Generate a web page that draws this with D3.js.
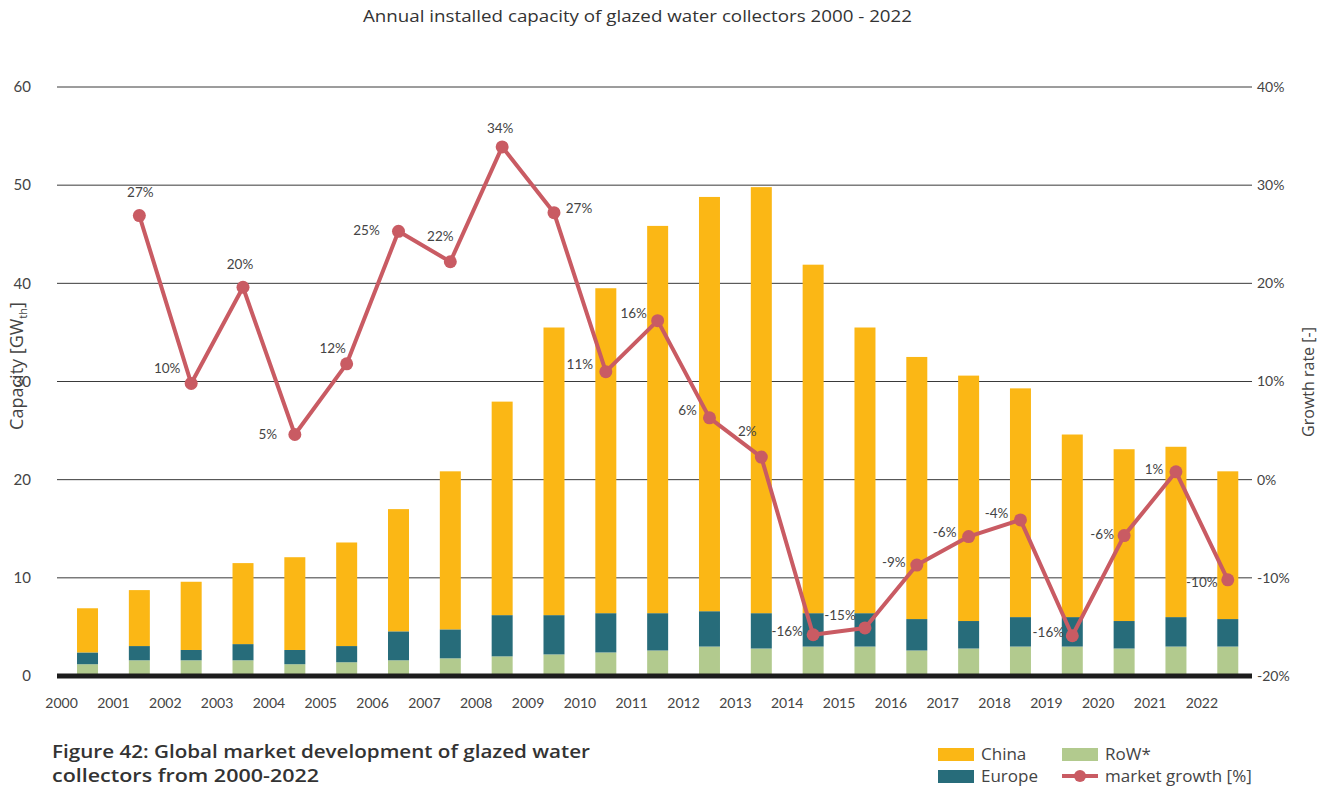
<!DOCTYPE html>
<html>
<head>
  <meta charset="utf-8">
  <title>glazed water collectors</title>
  <script src="https://cdnjs.cloudflare.com/ajax/libs/d3/7.8.5/d3.min.js"></script>
  <style>
    body { margin: 0; background: #fff; }
    text { font-family: Lato, "Open Sans", sans-serif; fill: #444; }
    .os { font-family: "Open Sans", Lato, sans-serif; }
  </style>
</head>
<body>
<script>
var width = 1336, height = 789;

// datos
var years  = d3.range(2000, 2023).map(String);
var row    = [1.2, 1.6, 1.6, 1.6, 1.2, 1.4, 1.6, 1.8, 2.0, 2.2, 2.4, 2.6, 3.0, 2.8, 3.0, 3.0, 2.6, 2.8, 3.0, 3.0, 2.8, 3.0, 3.0];
var europe = [1.2, 1.45, 1.05, 1.65, 1.45, 1.65, 2.95, 2.95, 4.2, 4.0, 4.0, 3.8, 3.6, 3.6, 3.4, 3.4, 3.2, 2.8, 3.0, 3.0, 2.8, 3.0, 2.8];
var china  = [4.5, 5.7, 6.95, 8.25, 9.45, 10.55, 12.45, 16.1, 21.75, 29.3, 33.1, 39.45, 42.2, 43.4, 35.5, 29.1, 26.7, 25.0, 23.3, 18.6, 17.5, 17.35, 15.05];
var growthYears = years.slice(1);
var growth = [26.9, 9.8, 19.6, 4.6, 11.8, 25.3, 22.2, 33.9, 27.2, 11.0, 16.2, 6.3, 2.3, -15.8, -15.1, -8.7, -5.8, -4.1, -15.9, -5.7, 0.8, -10.2];
var leftTicks  = [0, 10, 20, 30, 40, 50, 60];
var rightTicks = [-20, -10, 0, 10, 20, 30, 40];

// donde va cada etiqueta de % respecto al punto
var labelOff = [[1,-23],[-24,-15],[-3,-23],[-27,0],[-14,-16],[-32,-1],[-10,-25],[-2,-19],[25,-4],[-26,-7],[-24,-7],
                [-22,-8],[-14,-26],[-26,-3],[-25,-13],[-23,-3],[-24,-4],[-24,-7],[-24,-3],[-22,-1],[-22,-3],[-26,2]];

var colChina = "#FBB715", colEurope = "#276C7A", colRow = "#B2CA8E", colLine = "#C95B63";

var svg = d3.select("body").append("svg").attr("width", width).attr("height", height);

var x = d3.scaleBand().domain(years).range([61.6, 1253.7]).paddingInner(0.595).paddingOuter(0.2975);
var yL = d3.scaleLinear().domain([0, 60]).range([676, 87]);
var yR = d3.scaleLinear().domain([-20, 40]).range([676, 87]);
var gridX0 = 57, gridX1 = 1252;

svg.append("text").attr("class", "os").attr("x", 363).attr("y", 22)
   .attr("textLength", 549).attr("lengthAdjust", "spacingAndGlyphs")
   .style("font-size", "16px").style("fill", "#333")
   .text("Annual installed capacity of glazed water collectors 2000 - 2022");

// lineas de la grilla
svg.append("g").selectAll("line").data(leftTicks.slice(1)).join("line")
   .attr("x1", gridX0).attr("x2", gridX1)
   .attr("y1", function(d) { return yL(d); }).attr("y2", function(d) { return yL(d); })
   .attr("stroke", "#3a3a3a").attr("stroke-width", 1);

// eje izquierdo
svg.append("g").selectAll("text").data(leftTicks).join("text")
   .attr("x", 31).attr("y", function(d) { return yL(d); }).attr("dy", "0.35em")
   .attr("text-anchor", "end").style("font-size", "15px")
   .text(function(d) { return d; });

// eje derecho
svg.append("g").selectAll("text").data(rightTicks).join("text")
   .attr("x", 1257).attr("y", function(d) { return yR(d); }).attr("dy", "0.35em")
   .style("font-size", "14px")
   .text(function(d) { return d + "%"; });

// barras apiladas
var rows = years.map(function(yr, i) { return {year: yr, RoW: row[i], Europe: europe[i], China: china[i]}; });
var stack = d3.stack().keys(["RoW", "Europe", "China"])(rows);
var colors = {RoW: colRow, Europe: colEurope, China: colChina};

svg.append("g").selectAll("g").data(stack).join("g")
   .attr("fill", function(s) { return colors[s.key]; })
   .selectAll("rect").data(function(s) { return s; }).join("rect")
   .attr("x", function(d) { return x(d.data.year); })
   .attr("width", x.bandwidth())
   .attr("y", function(d) { return yL(d[1]); })
   .attr("height", function(d) { return yL(d[0]) - yL(d[1]); });

// linea base gruesa
svg.append("line").attr("x1", gridX0).attr("x2", gridX1).attr("y1", 676).attr("y2", 676)
   .attr("stroke", "#1c1c1c").attr("stroke-width", 5);

// crecimiento
var cx = function(yr) { return x(yr) + x.bandwidth() / 2; };
var pts = growthYears.map(function(yr, i) { return {year: yr, v: growth[i], off: labelOff[i]}; });

svg.append("path").datum(pts)
   .attr("fill", "none").attr("stroke", colLine).attr("stroke-width", 4).attr("stroke-linejoin", "round")
   .attr("d", d3.line().x(function(d) { return cx(d.year); }).y(function(d) { return yR(d.v); }));

svg.append("g").selectAll("circle").data(pts).join("circle")
   .attr("cx", function(d) { return cx(d.year); }).attr("cy", function(d) { return yR(d.v); })
   .attr("r", 6.5).attr("fill", colLine);

svg.append("g").selectAll("text").data(pts).join("text")
   .attr("x", function(d) { return cx(d.year) + d.off[0]; })
   .attr("y", function(d) { return yR(d.v) + d.off[1]; })
   .attr("dy", "0.35em").attr("text-anchor", "middle").style("font-size", "13.5px")
   .text(function(d) { return Math.round(d.v) + "%"; });

// etiquetas de años (quedan corridas a la izquierda de las barras, como el original)
svg.append("g").selectAll("text").data(years).join("text")
   .attr("x", function(d) { return x(d) - x.step() * x.paddingInner() / 2; })
   .attr("y", 703).attr("dy", "0.35em").attr("text-anchor", "middle").style("font-size", "14px")
   .text(function(d) { return d; });

// titulos de ejes
svg.append("text").attr("class", "os").attr("transform", "translate(23,366) rotate(-90)").attr("text-anchor", "middle")
   .style("font-size", "18px")
   .html('Capacity [GW<tspan dy="4" style="font-size:11px">th</tspan><tspan dy="-4">]</tspan>');
svg.append("text").attr("class", "os").attr("transform", "translate(1314,382) rotate(-90)").attr("text-anchor", "middle")
   .style("font-size", "16px").text("Growth rate [-]");

// pie de figura
var cap = svg.append("text").attr("class", "os").attr("x", 52).attr("y", 758).style("font-size", "18px")
   .style("font-weight", "600").style("fill", "#333");
cap.append("tspan").attr("x", 52).attr("textLength", 538).attr("lengthAdjust", "spacingAndGlyphs")
   .text("Figure 42: Global market development of glazed water");
cap.append("tspan").attr("x", 52).attr("dy", 24).attr("textLength", 267).attr("lengthAdjust", "spacingAndGlyphs")
   .text("collectors from 2000-2022");

// leyenda
var leg = svg.append("g");
var items = [
  {name: "China", c: colChina, x: 938, y: 754, type: "rect"},
  {name: "Europe", c: colEurope, x: 938, y: 776, type: "rect"},
  {name: "RoW*", c: colRow, x: 1062, y: 754, type: "rect"},
  {name: "market growth [%]", c: colLine, x: 1062, y: 776, type: "line"}
];
items.forEach(function(it) {
  if (it.type == "rect") {
    leg.append("rect").attr("x", it.x).attr("y", it.y - 6).attr("width", 36).attr("height", 13).attr("fill", it.c);
  } else {
    leg.append("line").attr("x1", it.x).attr("x2", it.x + 36).attr("y1", it.y).attr("y2", it.y)
       .attr("stroke", it.c).attr("stroke-width", 4);
    leg.append("circle").attr("cx", it.x + 18).attr("cy", it.y).attr("r", 6).attr("fill", it.c);
  }
  leg.append("text").attr("class", "os").attr("x", it.x + 43).attr("y", it.y).attr("dy", "0.35em")
     .style("font-size", "17px").text(it.name);
});
</script>
</body>
</html>
